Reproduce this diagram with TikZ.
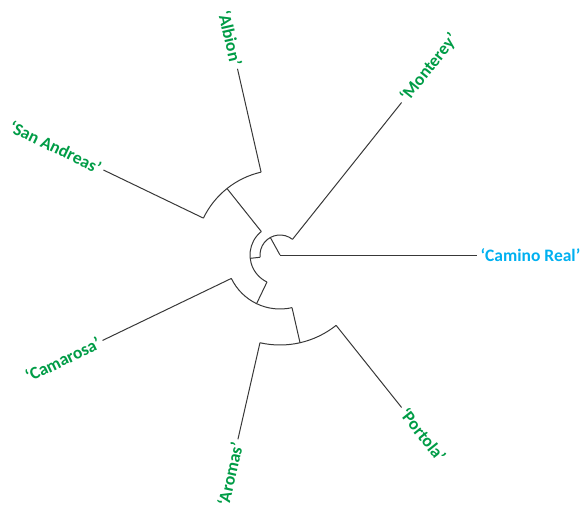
\documentclass[tikz,border=0pt]{standalone}
\usepackage{fontspec}
\setmainfont{Carlito}[BoldFont={Carlito Bold}]
\definecolor{leafgreen}{RGB}{0,156,70}
\definecolor{leafblue}{RGB}{0,176,240}
\tikzset{
  branch/.style={draw=black!78, line width=1pt},
  leaflabel/.style={font=\bfseries\fontsize{17.5}{20}\selectfont, inner sep=3.5pt},
}
\begin{document}
\begin{tikzpicture}[x=1pt,y=1pt]
\useasboundingbox (-280,-251) rectangle (303,255);

% internal nodes (radius 0 at the root)
\coordinate (root) at (0,0);
\coordinate (nB0) at (118.93:0);  \coordinate (nB) at (118.93:20);
\coordinate (nC0) at (186.43:20); \coordinate (nC) at (186.43:30);
\coordinate (nA0) at (128.57:30); \coordinate (nA) at (128.57:85);
\coordinate (nD0) at (244.29:30); \coordinate (nD) at (244.29:54);
\coordinate (nE0) at (282.86:54); \coordinate (nE) at (282.86:90);

\foreach \n in {B,C,A,D,E}
  \draw[branch] (n\n0) -- (n\n);

% arcs of the internal nodes
\draw[branch] (51.43:20) arc[start angle=51.43, end angle=186.43, radius=20];
\draw[branch] (128.57:30) arc[start angle=128.57, end angle=244.29, radius=30];
\draw[branch] (102.86:85) arc[start angle=102.86, end angle=154.29, radius=85];
\draw[branch] (205.71:54) arc[start angle=205.71, end angle=282.86, radius=54];
\draw[branch] (257.14:90) arc[start angle=257.14, end angle=308.57, radius=90];

% leaves: angle / start radius / end radius / name / rotation / anchor / colour / label
\foreach \a/\r/\e/\nm/\rot/\anc/\col/\txt in {
    0/0/197/camino/0/west/leafblue/{‘Camino Real’},
    51.43/20/195/monterey/51.43/west/leafgreen/{‘Monterey’},
    102.86/85/191/albion/-77.14/east/leafgreen/{‘Albion’},
    154.29/85/196/sanandreas/-25.71/east/leafgreen/{‘San Andreas’},
    205.71/54/197/camarosa/25.71/east/leafgreen/{‘Camarosa’},
    257.14/90/189/aromas/77.14/east/leafgreen/{‘Aromas’},
    308.57/90/195/portola/-51.43/west/leafgreen/{‘Portola’}} {
  \coordinate (\nm0) at (\a:\r);
  \node[leaflabel, text=\col, rotate=\rot, anchor=\anc] (\nm) at (\a:\e) {\txt};
  \draw[branch] (\nm0) -- (\nm.\anc);
}

\end{tikzpicture}
\end{document}
